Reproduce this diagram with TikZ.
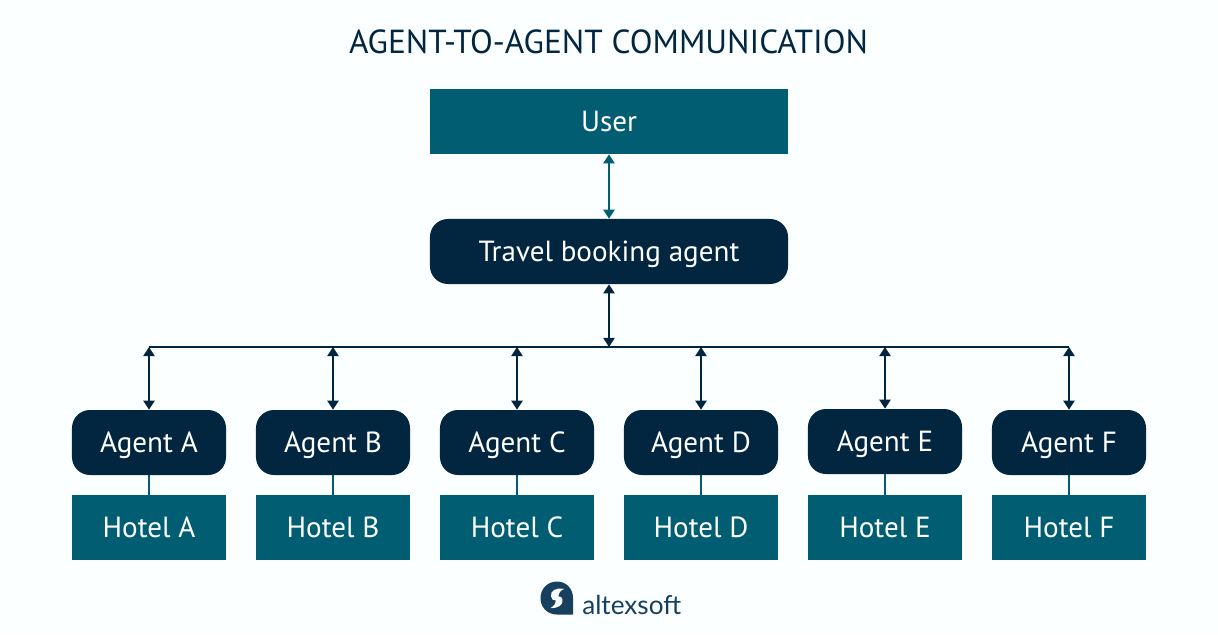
\documentclass[tikz,border=0pt]{standalone}
\usepackage{fontspec}
\setmainfont{PT Sans}
\newfontfamily\logofont{Lato}
\usepackage{tikz}
\usetikzlibrary{arrows.meta,positioning}
\definecolor{paper}{HTML}{FBFFFF}
\definecolor{navy}{HTML}{02263F}
\definecolor{teal}{HTML}{015D72}
\definecolor{logoblue}{HTML}{17405F}
\tikzset{
  agentbox/.style={fill=navy,text=white,rounded corners=0.45cm,inner sep=0pt,minimum width=3.85cm,minimum height=1.625cm,text height=13.6pt,text depth=0pt,font=\fontsize{20.7}{25}\selectfont},
  hotelbox/.style={fill=teal,text=white,inner sep=0pt,minimum width=3.85cm,minimum height=1.625cm,text height=13.6pt,text depth=0pt,font=\fontsize{20.7}{25}\selectfont},
  widebox/.style={minimum width=8.95cm},
  tworow/.style={line width=1.4pt,{Triangle[width=8pt,length=6.5pt]}-{Triangle[width=8pt,length=6.5pt]}},
}
\begin{document}
\begin{tikzpicture}[x=0.025cm,y=-0.025cm]
\fill[paper] (0,0) rectangle (1218,634);
\useasboundingbox (0,0) rectangle (1218,634);
\node[text=navy,font=\fontsize{23.7}{28}\selectfont] (title) at (608.5,42) {AGENT-TO-AGENT COMMUNICATION};
\node[hotelbox,widebox] (user) at (609,121.5) {User};
\node[agentbox,widebox] (travel) at (609,251.5) {Travel booking agent};
\coordinate (busmid) at (609,347);
%Agent E sitzt einen Pixel hoeher
\foreach \n/\cx/\cy in {A/149/442.5,B/333/442.5,C/517/442.5,D/701/442.5,E/885/441.5,F/1069/442.5}{
  \node[agentbox] (agent\n) at (\cx,\cy) {Agent \n};
  \node[hotelbox] (hotel\n) at (\cx,527.5) {Hotel \n};
  \coordinate (bus\n) at (\cx,347);
  \draw[teal,line width=1.4pt] (agent\n) -- (hotel\n);
  \draw[navy,tworow] (bus\n) -- (agent\n);
}
\draw[navy,line width=1.4pt] (busA) -- (busF);
\draw[teal,tworow] (user) -- (travel);
\draw[navy,tworow] (travel) -- (busmid);
%Logo
\fill[logoblue] (573,614.5) -- (557,614.5) .. controls (547,614.5) and (540.5,607) .. (540.5,598) .. controls (540.5,589) and (547.5,581.5) .. (557,581.5) .. controls (566.5,581.5) and (573,589) .. (573,598) -- cycle;
\fill[paper] (564,589) .. controls (556,587) and (550,591) .. (551,596.5) .. controls (551.5,599.5) and (553.5,601) .. (556,600.5) .. controls (556,603.5) and (554,606) .. (550.5,608) .. controls (558,608.5) and (563.5,605) .. (562.5,599.5) .. controls (562,597) and (560.5,596) .. (558.5,596.5) .. controls (558.5,593) and (560.5,590.5) .. (564,589) -- cycle;
\node[text=logoblue,font=\logofont\fontsize{18.6}{24}\selectfont,inner sep=0pt,anchor=base west] (logo) at (582,614) {altexsoft};
\end{tikzpicture}
\end{document}
